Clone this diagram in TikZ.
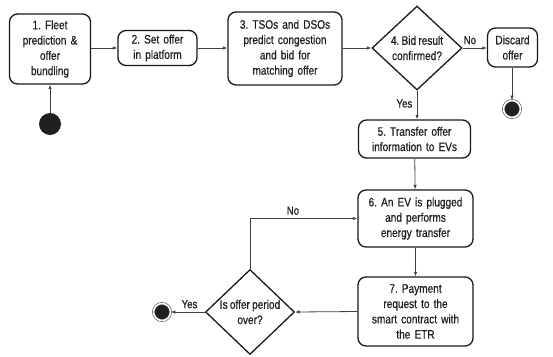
\documentclass[tikz,border=0pt]{standalone}
\usepackage{fontspec}
\setmainfont[FakeStretch=0.82, FakeBold=0.6, WordSpace=0.8]{Liberation Sans}
\frenchspacing
\usetikzlibrary{shapes.geometric,arrows.meta}
\begin{document}
\begin{tikzpicture}[x=1bp,y=-1bp,
  font=\fontsize{12.3bp}{15.3bp}\selectfont,
  every node/.style={text=black!88},
  stepbox/.style={draw=black!90, line width=1.3bp, rounded corners=8bp,
    align=center, inner sep=2bp},
  decision/.style={draw=black!90, line width=1.3bp, shape=diamond,
    align=center, inner sep=0bp, aspect=1.07},
  startdot/.style={circle, fill=black!88, minimum size=22bp, inner sep=0bp},
  enddot/.style={circle, fill=black!88, minimum size=17bp, inner sep=0bp,
    double=white, double distance=1.6bp, draw=black!70, line width=0.6bp},
  arr/.style={draw=black!75, line width=0.8bp, -{Latex[length=4.5bp,width=3.5bp]}},
  lbl/.style={font=\fontsize{11.8bp}{14bp}\selectfont},
]
\useasboundingbox (0,0) rectangle (553,356);

% top row
\node[stepbox, minimum width=81bp, minimum height=70bp, text width=76bp] (n1) at (50,49)
  {1. Fleet\\prediction \&\\offer\\bundling};
\node[startdot] (s0) at (50,124) {};
\node[stepbox, minimum width=79bp, minimum height=35bp, text width=74bp] (n2) at (157.5,48)
  {2. Set offer\\in platform};
\node[stepbox, minimum width=114bp, minimum height=73bp, text width=110bp] (n3) at (285,48.5)
  {3. TSOs and DSOs\\predict congestion\\and bid for\\matching offer};
\node[decision, minimum width=90bp, minimum height=84bp] (d4) at (417,48)
  {4. Bid result\\confirmed?};
\node[stepbox, minimum width=49bp, minimum height=39bp, text width=46bp] (dc) at (512.5,47.5)
  {Discard\\offer};
\node[enddot] (e1) at (512,109) {};

% right column
\node[stepbox, minimum width=112bp, minimum height=38bp, text width=108bp] (n5) at (414.5,139)
  {5. Transfer offer\\information to EVs};
\node[stepbox, minimum width=115bp, minimum height=57bp, text width=110bp] (n6) at (415.5,218.5)
  {6. An EV is plugged\\and performs\\energy transfer};
\node[stepbox, minimum width=115bp, minimum height=69bp, text width=110bp] (n7) at (415.5,311.5)
  {7. Payment\\request to the\\smart contract with\\the ETR};

% bottom loop
\node[decision, minimum width=89bp, minimum height=85bp] (d7) at (250,312)
  {Is offer period\\over?};
\node[enddot] (e2) at (162,312) {};
\coordinate (bend) at (d7.north |- n6.west);

% connectors
\draw[arr] (s0) -- (n1);
\draw[arr] (n1.east |- n2.west) -- (n2.west);
\draw[arr] (n2) -- (n3.west |- n2.east);
\draw[arr] (n3.east |- d4.west) -- (d4.west);
\draw[arr] (d4.east) -- node[lbl, above, pos=0.3] (lno1) {No} (dc.west |- d4.east);
\draw[arr] (dc.south -| e1) -- (e1);
\draw[arr] (d4.south) -- node[lbl, left, pos=0.45, xshift=-1bp] (lyes1) {Yes} (n5.north -| d4.south);
\draw[arr] (n5) -- (n6);
\draw[arr] (n6) -- (n7);
\draw[arr] (n7.west) -- (d7.east);
\draw[arr] (d7.west) -- node[lbl, above, pos=0.45] (lyes2) {Yes} (e2);
\draw[arr] (d7.north) -- (bend) -- node[lbl, above, pos=0.4] (lno2) {No} (n6.west);
\end{tikzpicture}
\end{document}
